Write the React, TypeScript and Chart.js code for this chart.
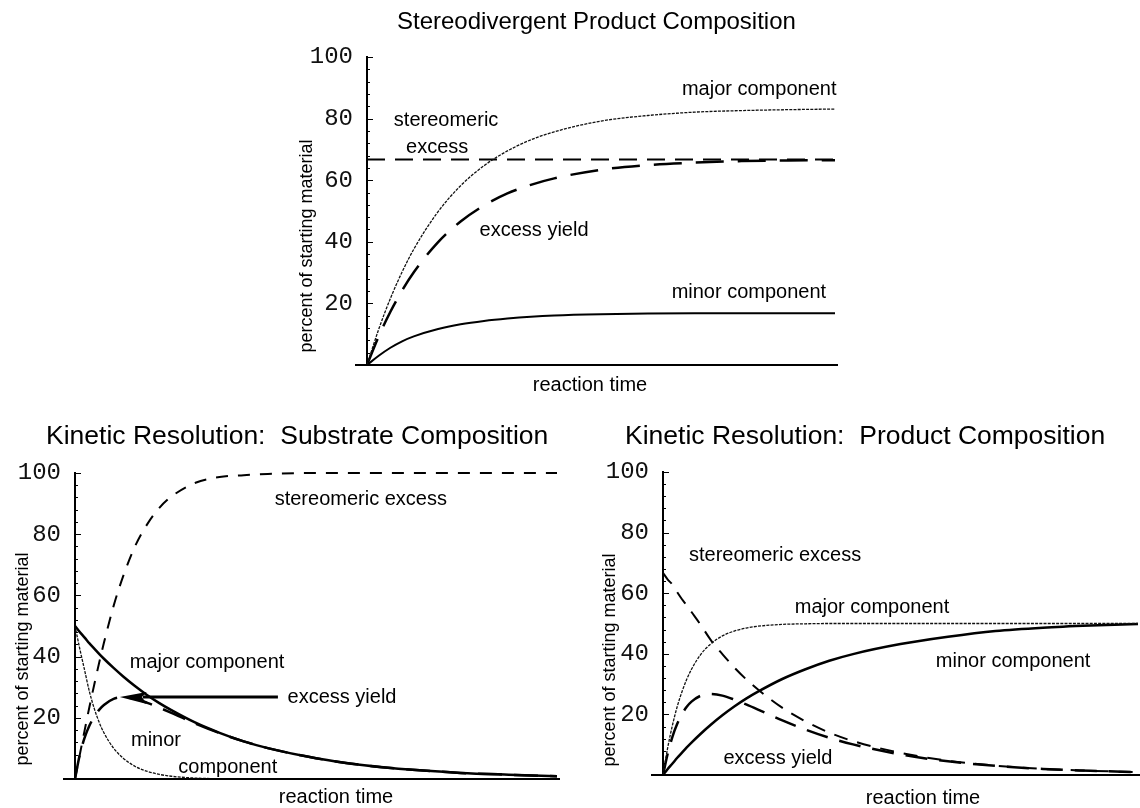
import React, { useEffect, useRef } from 'react';
import { Chart, registerables } from 'chart.js';

Chart.register(...registerables);

// ---------------- data ----------------
const yTickValues = [0, 20, 40, 60, 80, 100];

// Stereodivergent product composition
const timeTop = [0, 0.25, 0.5, 0.75, 1, 1.5, 2, 2.5, 3, 3.5, 4, 5, 6, 7, 8, 9, 10];
const topMajor = [0, 11.6, 21.6, 30.2, 37.6, 49.4, 58.2, 64.7, 69.5, 73.1, 75.7, 79.2, 81.0, 82.1, 82.6, 82.9, 83.1];
const topMinor = [0, 3.0, 5.6, 7.7, 9.3, 11.6, 13.2, 14.3, 15.1, 15.7, 16.1, 16.5, 16.7, 16.8, 16.8, 16.8, 16.8];
const topExcessYield = [0, 9.3, 17.3, 24.2, 30.1, 39.6, 46.6, 51.8, 55.7, 58.5, 60.6, 63.4, 64.9, 65.7, 66.2, 66.4, 66.5];
const topStereoExcess = [66.7, 66.7, 66.7, 66.7, 66.7, 66.7, 66.7, 66.7, 66.7, 66.7, 66.7, 66.7, 66.7, 66.7, 66.7, 66.7, 66.7];

// Kinetic resolution (both lower panels)
const timeKR = [0, 0.1, 0.2, 0.3, 0.4, 0.5, 0.6, 0.8, 1, 1.25, 1.5, 1.75, 2, 2.5, 3, 3.5, 4, 5, 6, 7, 8, 9, 10];

// Substrate composition
const subMajor = [50, 48.0, 46.2, 44.3, 42.6, 40.9, 39.3, 36.3, 33.5, 30.3, 27.4, 24.8, 22.5, 18.4, 15.1, 12.3, 10.1, 6.8, 4.5, 3.0, 2.0, 1.4, 0.9];
const subMinor = [50, 42.5, 35.5, 28.5, 23.0, 18.6, 15.1, 10.1, 6.8, 4.1, 2.5, 1.5, 0.9, 0.3, 0.1, 0, 0, 0, 0, 0, 0, 0, 0];
const subExcessYield = [0, 8.0, 13.5, 17.5, 20.3, 22.6, 24.2, 26.2, 26.7, 26.2, 24.9, 23.3, 21.6, 18.1, 15.0, 12.3, 10.1, 6.8, 4.5, 3.0, 2.0, 1.4, 0.9];
const subStereoExcess = [0, 8.0, 15.9, 23.6, 30.9, 37.9, 44.5, 56.5, 66.3, 76.2, 83.3, 88.6, 92.3, 96.8, 98.7, 99.3, 99.7, 100, 100, 100, 100, 100, 100];

// Product composition
const prodMajor = [0, 9.1, 16.5, 22.6, 27.5, 31.6, 34.9, 39.9, 43.2, 45.9, 47.5, 48.5, 49.1, 49.7, 49.9, 50, 50, 50, 50, 50, 50, 50, 50];
const prodMinor = [0, 2.0, 3.8, 5.7, 7.4, 9.1, 10.7, 13.7, 16.5, 19.7, 22.6, 25.2, 27.5, 31.6, 34.9, 37.7, 39.9, 43.2, 45.6, 47.5, 48.6, 49.3, 49.8];
const prodExcessYield = [0, 7.1, 12.7, 16.9, 20.1, 22.5, 24.2, 26.2, 26.7, 26.2, 24.9, 23.3, 21.6, 18.1, 15.0, 12.3, 10.1, 6.8, 4.5, 3.0, 2.0, 1.4, 0.9];
const prodStereoExcess = [66.7, 64.5, 62.8, 60.3, 58.0, 56.0, 53.8, 49.4, 44.7, 39.9, 35.5, 31.6, 28.2, 22.3, 17.7, 14.0, 11.2, 7.3, 4.7, 3.1, 2.0, 1.4, 0.9];

// ---------------- styling / layout ----------------
const SANS = '"Liberation Sans", Arial, Helvetica, sans-serif';
const MONO = '"Liberation Mono", "Courier New", monospace';

type Series = { name: string; values: number[]; width: number; dash: number[]; color: string };
type Note = { text: string; t: number; v: number };
type Spec = {
  title: string; titleSize: number; titleX: number; titleY: number;
  xTitleX: number; xTitleY: number; yTitleX: number; yTitleY: number;
  yWidth: number; padding: { top: number; bottom: number; left: number; right: number };
  time: number[]; series: Series[]; notes: Note[];
  arrow?: { from: number; to: number; v: number };
};

const thin = (name: string, values: number[]): Series => ({ name, values, width: 1.3, dash: [3, 1.2], color: '#111' });
const solid = (name: string, values: number[], w = 2.2): Series => ({ name, values, width: w, dash: [], color: '#000' });
const dashed = (name: string, values: number[], dash: number[], w = 2): Series => ({ name, values, width: w, dash, color: '#000' });

const topSpec: Spec = {
  title: 'Stereodivergent Product Composition', titleSize: 24, titleX: 117, titleY: 22,
  xTitleX: 310, xTitleY: 385, yTitleX: 27, yTitleY: 246,
  yWidth: 87, padding: { top: 57, bottom: 40, left: 0, right: 25 },
  time: timeTop,
  series: [
    thin('major component', topMajor),
    solid('minor component', topMinor, 2),
    dashed('excess yield', topExcessYield, [28, 14], 2.5),
    dashed('stereomeric excess', topStereoExcess, [18, 10], 2),
  ],
  notes: [
    { text: 'major component', t: 8.38, v: 89.3 },
    { text: 'stereomeric', t: 1.69, v: 79.5 },
    { text: 'excess', t: 1.5, v: 70.6 },
    { text: 'excess yield', t: 3.57, v: 43.8 },
    { text: 'minor component', t: 8.16, v: 23.7 },
  ],
};

const leftSpec: Spec = {
  title: 'Kinetic Resolution:  Substrate Composition', titleSize: 26.5, titleX: 46, titleY: 27,
  xTitleX: 336, xTitleY: 387, yTitleX: 23, yTitleY: 249,
  yWidth: 75, padding: { top: 63, bottom: 29, left: 0, right: 18 },
  time: timeKR,
  series: [
    solid('major component', subMajor, 2.5),
    thin('minor component', subMinor),
    dashed('excess yield', subExcessYield, [24, 12], 2.5),
    dashed('stereomeric excess', subStereoExcess, [12, 10], 2),
  ],
  notes: [
    { text: 'stereomeric excess', t: 5.93, v: 91.2 },
    { text: 'major component', t: 2.74, v: 38.2 },
    { text: 'excess yield', t: 5.54, v: 26.8 },
    { text: 'minor', t: 1.68, v: 12.7 },
    { text: 'component', t: 3.17, v: 3.9 },
  ],
  arrow: { from: 4.21, to: 0.93, v: 26.8 },
};

const rightSpec: Spec = {
  title: 'Kinetic Resolution:  Product Composition', titleSize: 26.5, titleX: 50, titleY: 27,
  xTitleX: 348, xTitleY: 388, yTitleX: 35, yTitleY: 250,
  yWidth: 88, padding: { top: 62, bottom: 33, left: 0, right: 2 },
  time: timeKR,
  series: [
    thin('major component', prodMajor),
    solid('minor component', prodMinor, 2.5),
    dashed('excess yield', prodExcessYield, [22, 12], 2.5),
    dashed('stereomeric excess', prodStereoExcess, [14, 10], 2),
  ],
  notes: [
    { text: 'stereomeric excess', t: 2.36, v: 72.3 },
    { text: 'major component', t: 4.4, v: 55.4 },
    { text: 'minor component', t: 7.37, v: 37.6 },
    { text: 'excess yield', t: 2.42, v: 5.6 },
  ],
};

function decor(spec: Spec) {
  return {
    id: 'decor',
    afterDatasetsDraw(chart: any) {
      const { ctx, chartArea: a, scales } = chart;
      const x = scales.x;
      const y = scales.y;
      ctx.save();
      ctx.strokeStyle = '#000';
      ctx.fillStyle = '#000';
      // horizontal axis
      ctx.lineWidth = 2;
      ctx.setLineDash([]);
      ctx.beginPath();
      ctx.moveTo(a.left - 12, a.bottom);
      ctx.lineTo(a.right + 3, a.bottom);
      ctx.stroke();
      // inward tick marks on the vertical axis
      ctx.lineWidth = 1;
      for (let v = 4; v <= 100; v += 4) {
        const p = Math.round(y.getPixelForValue(v)) + 0.5;
        const len = yTickValues.includes(v) ? 6 : 3;
        ctx.beginPath();
        ctx.moveTo(a.left, p);
        ctx.lineTo(a.left + len, p);
        ctx.stroke();
      }
      // title
      ctx.textBaseline = 'middle';
      ctx.textAlign = 'left';
      ctx.font = `${spec.titleSize}px ${SANS}`;
      ctx.fillText(spec.title, spec.titleX, spec.titleY);
      // axis titles
      ctx.textAlign = 'center';
      ctx.font = `20px ${SANS}`;
      ctx.fillText('reaction time', spec.xTitleX, spec.xTitleY);
      ctx.save();
      ctx.translate(spec.yTitleX, spec.yTitleY);
      ctx.rotate(-Math.PI / 2);
      ctx.font = `18px ${SANS}`;
      ctx.fillText('percent of starting material', 0, 0);
      ctx.restore();
      // curve annotations
      ctx.font = `20px ${SANS}`;
      for (const n of spec.notes) {
        ctx.fillText(n.text, x.getPixelForValue(n.t), y.getPixelForValue(n.v));
      }
      // arrow
      if (spec.arrow) {
        const x0 = x.getPixelForValue(spec.arrow.from);
        const x1 = x.getPixelForValue(spec.arrow.to);
        const py = y.getPixelForValue(spec.arrow.v);
        const head = 27;
        ctx.lineWidth = 3;
        ctx.beginPath();
        ctx.moveTo(x0, py);
        ctx.lineTo(x1 + head - 4, py);
        ctx.stroke();
        ctx.beginPath();
        ctx.moveTo(x1, py);
        ctx.lineTo(x1 + head, py - 5);
        ctx.lineTo(x1 + head - 5, py);
        ctx.lineTo(x1 + head, py + 7);
        ctx.closePath();
        ctx.fill();
      }
      ctx.restore();
    },
  };
}

function buildConfig(spec: Spec): any {
  return {
    type: 'line',
    data: {
      datasets: spec.series.map((s) => ({
        label: s.name,
        data: spec.time.map((t, i) => ({ x: t, y: s.values[i] })),
        borderColor: s.color,
        borderWidth: s.width,
        borderDash: s.dash,
        pointRadius: 0,
        fill: false,
        cubicInterpolationMode: 'monotone',
        clip: false,
      })),
    },
    options: {
      animation: false,
      responsive: false,
      devicePixelRatio: 1,
      events: [],
      layout: { padding: spec.padding, autoPadding: false },
      plugins: { legend: { display: false }, title: { display: false }, tooltip: { enabled: false } },
      scales: {
        x: { type: 'linear', min: 0, max: 10, display: false },
        y: {
          type: 'linear',
          position: 'left',
          min: 0,
          max: 100,
          afterFit: (s: any) => { s.width = spec.yWidth; },
          ticks: {
            stepSize: 20,
            color: '#111',
            padding: 6,
            font: { family: MONO, size: 24 },
            callback: (v: any) => (Number(v) === 0 ? '' : String(v)),
          },
          grid: { display: false },
          border: { display: true, color: '#000', width: 2 },
        },
      },
    },
    plugins: [decor(spec)],
  };
}

export default function App() {
  const topRef = useRef<HTMLCanvasElement>(null);
  const leftRef = useRef<HTMLCanvasElement>(null);
  const rightRef = useRef<HTMLCanvasElement>(null);

  useEffect(() => {
    const charts = [
      new Chart(topRef.current as HTMLCanvasElement, buildConfig(topSpec)),
      new Chart(leftRef.current as HTMLCanvasElement, buildConfig(leftSpec)),
      new Chart(rightRef.current as HTMLCanvasElement, buildConfig(rightSpec)),
    ];
    return () => charts.forEach((c) => c.destroy());
  }, []);

  return (
    <div style={{ position: 'absolute', left: 0, top: 0, width: 1140, height: 808, background: '#fff', overflow: 'hidden' }}>
      <canvas ref={topRef} width={580} height={405} style={{ position: 'absolute', left: 280, top: 0, width: 580, height: 405 }} />
      <canvas ref={leftRef} width={575} height={398} style={{ position: 'absolute', left: 0, top: 410, width: 575, height: 398 }} />
      <canvas ref={rightRef} width={565} height={398} style={{ position: 'absolute', left: 575, top: 410, width: 565, height: 398 }} />
    </div>
  );
}
